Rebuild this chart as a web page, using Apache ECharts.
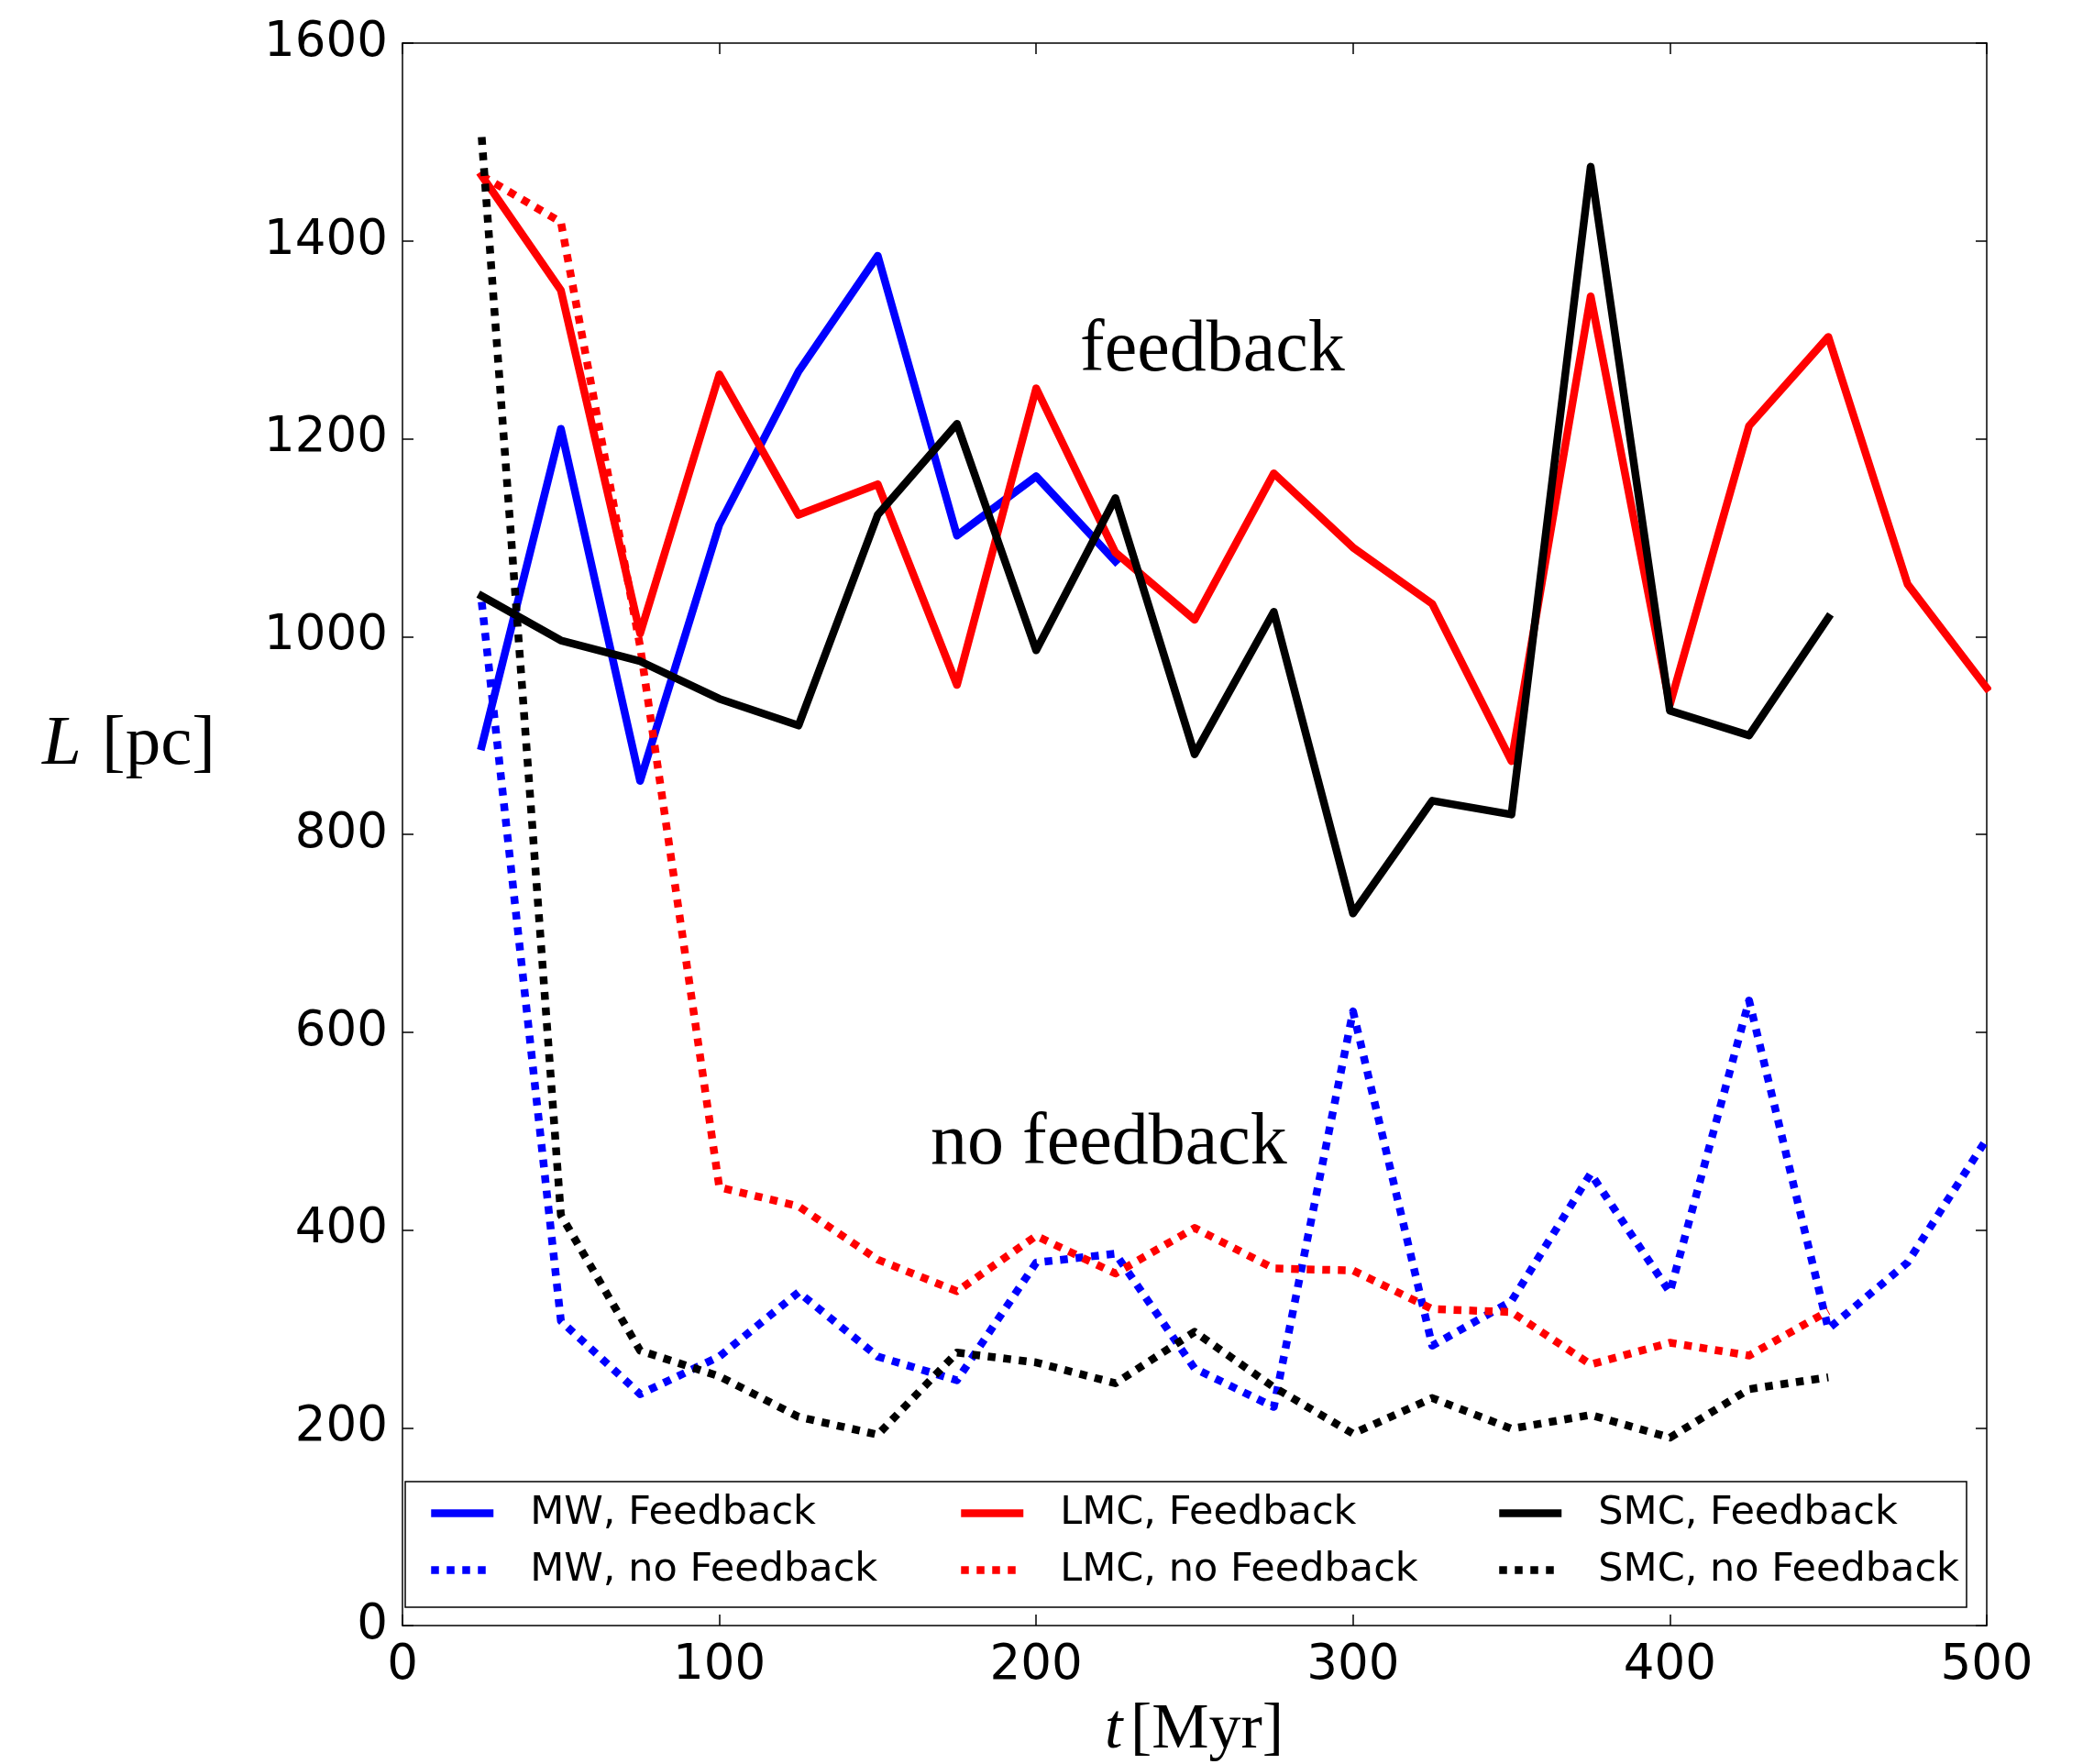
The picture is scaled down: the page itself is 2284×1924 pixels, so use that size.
<!DOCTYPE html>
<html>
<head>
<meta charset="utf-8">
<script src="https://cdn.jsdelivr.net/npm/echarts@6/dist/echarts.min.js"></script>
<style>
  html, body { margin: 0; padding: 0; background: #fff; }
  #chart { width: 2284px; height: 1924px; }
</style>
</head>
<body>
<div id="chart"></div>
<script>
// Snapshot times [Myr]
const times = [25, 50, 75, 100, 125, 150, 175, 200, 225, 250, 275, 300, 325, 350, 375, 400, 425, 450, 475, 500];

// Characteristic length L [pc] per galaxy, with and without stellar feedback
const mwFeedback    = [889, 1210, 854, 1113, 1268, 1385, 1102, 1162, 1076];
const mwNoFeedback  = [1035, 308, 234, 272, 337, 272, 248, 367, 376, 260, 221, 621, 283, 328, 457, 337, 632, 300, 367, 492];
const lmcFeedback   = [1466, 1350, 1003, 1265, 1123, 1154, 951, 1251, 1085, 1017, 1165, 1090, 1033, 874, 1344, 931, 1213, 1303, 1053, 948];
const lmcNoFeedback = [1466, 1419, 990, 443, 424, 370, 338, 394, 356, 402, 361, 359, 320, 317, 264, 286, 273, 318];
const smcFeedback   = [1041, 996, 975, 937, 910, 1123, 1215, 986, 1140, 881, 1025, 720, 834, 820, 1475, 925, 900, 1019];
const smcNoFeedback = [1505, 415, 278, 252, 211, 193, 276, 266, 245, 297, 241, 194, 230, 199, 213, 190, 239, 251];

// Axis ticks
const xTicks = [0, 100, 200, 300, 400, 500];
const yTicks = [0, 200, 400, 600, 800, 1000, 1200, 1400, 1600];

const pairs = (vals) => vals.map((v, i) => [times[i], v]);

const LW = 8.5;
const DOT = [8.5, 8.5];

function lineSeries(name, vals, color, dotted) {
  return {
    name: name,
    type: 'line',
    data: pairs(vals),
    showSymbol: false,
    symbol: 'none',
    color: color,
    lineStyle: {
      color: color,
      width: LW,
      type: dotted ? DOT : 'solid',
      cap: dotted ? 'butt' : 'square',
      join: 'round'
    },
    emphasis: { disabled: true },
    animation: false
  };
}

const tickFont = { fontFamily: 'DejaVu Sans', fontSize: 53, color: '#000' };
const frameLine = { show: true, onZero: false, lineStyle: { color: '#000', width: 1.5 } };
const tickIn = { show: true, inside: true, length: 12, lineStyle: { color: '#000', width: 1.5 } };
const plain = (v) => String(v);

const legendText = {
  fontFamily: 'DejaVu Sans', fontSize: 43, lineHeight: 43, color: '#000',
  padding: [0, 0, 0, 35]
};
function legendCol(names, left) {
  return {
    data: names, orient: 'vertical', left: left, top: 1629,
    itemWidth: 68, itemHeight: 14, itemGap: 19, padding: 0,
    selectedMode: false, textStyle: legendText, z: 10,
    itemStyle: { opacity: 0, borderWidth: 0 },
    lineStyle: { width: LW, type: 'inherit', cap: 'butt' }
  };
}

const chart = echarts.init(document.getElementById('chart'), null, { renderer: 'canvas' });

chart.setOption({
  animation: false,
  backgroundColor: '#fff',
  grid: { left: 439, top: 47, width: 1728, height: 1726, containLabel: false },
  xAxis: [
    {
      type: 'value', min: xTicks[0], max: xTicks[xTicks.length - 1], interval: 100,
      position: 'bottom',
      axisLine: frameLine, axisTick: tickIn, splitLine: { show: false },
      axisLabel: Object.assign({ margin: 18, formatter: plain }, tickFont)
    },
    {
      type: 'value', min: xTicks[0], max: xTicks[xTicks.length - 1], interval: 100,
      position: 'top',
      axisLine: frameLine, axisTick: tickIn, splitLine: { show: false },
      axisLabel: { show: false }
    }
  ],
  yAxis: [
    {
      type: 'value', min: yTicks[0], max: yTicks[yTicks.length - 1], interval: 200,
      position: 'left',
      axisLine: frameLine, axisTick: tickIn, splitLine: { show: false },
      axisLabel: Object.assign({ margin: 16, formatter: plain }, tickFont)
    },
    {
      type: 'value', min: yTicks[0], max: yTicks[yTicks.length - 1], interval: 200,
      position: 'right',
      axisLine: frameLine, axisTick: tickIn, splitLine: { show: false },
      axisLabel: { show: false }
    }
  ],
  legend: [
    legendCol(['MW, Feedback', 'MW, no Feedback'], 466),
    legendCol(['LMC, Feedback', 'LMC, no Feedback'], 1044),
    legendCol(['SMC, Feedback', 'SMC, no Feedback'], 1631)
  ],
  series: [
    lineSeries('MW, Feedback', mwFeedback, '#0000ff', false),
    lineSeries('MW, no Feedback', mwNoFeedback, '#0000ff', true),
    lineSeries('LMC, Feedback', lmcFeedback, '#ff0000', false),
    lineSeries('LMC, no Feedback', lmcNoFeedback, '#ff0000', true),
    lineSeries('SMC, Feedback', smcFeedback, '#000000', false),
    lineSeries('SMC, no Feedback', smcNoFeedback, '#000000', true)
  ],
  graphic: [
    // legend frame
    {
      type: 'rect', z: 3,
      shape: { x: 442, y: 1616, width: 1703, height: 137 },
      style: { fill: '#fff', stroke: '#000', lineWidth: 1.5 }
    },
    // in-plot annotations
    {
      type: 'text', z: 20, x: 1178, y: 383,
      style: { text: 'feedback', font: '80px "Liberation Serif"', fill: '#000', textAlign: 'left', textVerticalAlign: 'middle' }
    },
    {
      type: 'text', z: 20, x: 1015, y: 1248,
      style: { text: 'no feedback', font: '80px "Liberation Serif"', fill: '#000', textAlign: 'left', textVerticalAlign: 'middle' }
    },
    // y-axis label: L [pc]
    {
      type: 'text', z: 20, x: 46, y: 813,
      style: { text: 'L', font: 'italic 77px "Liberation Serif"', fill: '#000', textAlign: 'left', textVerticalAlign: 'middle' }
    },
    {
      type: 'text', z: 20, x: 111, y: 813,
      style: { text: '[pc]', font: '77px "Liberation Serif"', fill: '#000', textAlign: 'left', textVerticalAlign: 'middle' }
    },
    // x-axis label: t[Myr]
    {
      type: 'text', z: 20, x: 1205, y: 1888,
      style: { text: 't', font: 'italic 70px "Liberation Serif"', fill: '#000', textAlign: 'left', textVerticalAlign: 'middle' }
    },
    {
      type: 'text', z: 20, x: 1233, y: 1888,
      style: { text: '[Myr]', font: '70px "Liberation Serif"', fill: '#000', textAlign: 'left', textVerticalAlign: 'middle' }
    }
  ]
});
</script>
</body>
</html>
